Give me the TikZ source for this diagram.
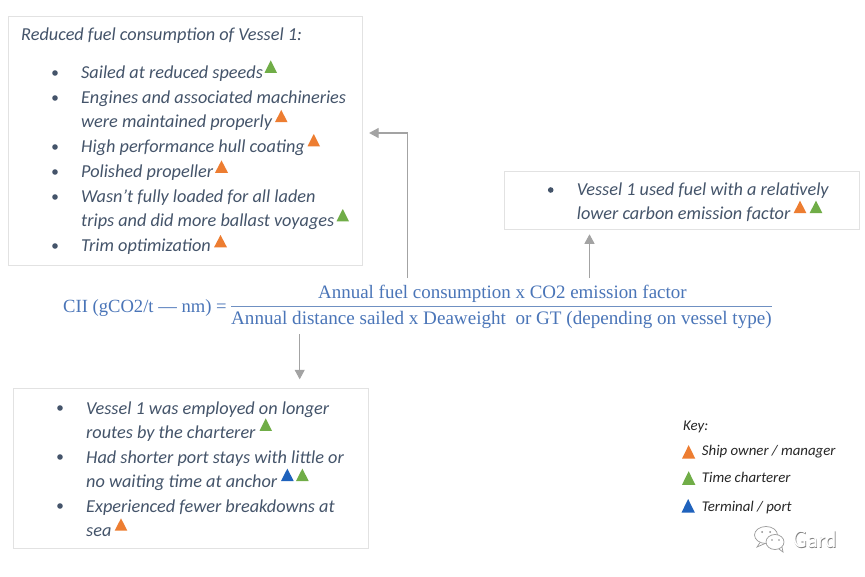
\documentclass[tikz,border=0pt]{standalone}
\usepackage{fontspec}
\setmainfont{Carlito}
\newfontfamily\mathlike{Liberation Serif}
\definecolor{slatetext}{HTML}{44546A}
\definecolor{boxline}{HTML}{E2E2E2}
\definecolor{arrowgrey}{HTML}{A3A3A3}
\definecolor{formulablue}{HTML}{4A75B8}
\definecolor{fracline}{HTML}{6F90C2}
\definecolor{triorange}{HTML}{ED7D31}
\definecolor{trigreen}{HTML}{70AD47}
\definecolor{triblue}{HTML}{1F62BC}
\definecolor{keytext}{HTML}{262626}
\usetikzlibrary{arrows.meta}
\tikzset{
  panel/.style={draw=boxline,line width=1.1pt,fill=white,inner sep=0pt,anchor=north west},
  item/.style={anchor=base west,inner sep=0pt,text=slatetext,font=\fontsize{18.25}{18.25}\selectfont\itshape},
  keyitem/.style={anchor=base west,inner sep=0pt,text=keytext,font=\fontsize{14.85}{14.85}\selectfont\itshape},
  formula/.style={anchor=base west,inner sep=0pt,text=formulablue,font=\fontsize{#1}{#1}\selectfont\mathlike},
  dot/.style={circle,fill=slatetext,inner sep=0pt,minimum size=5.6pt},
  link/.style={draw=arrowgrey,line width=1.1pt,-{Triangle[length=9.5pt,width=10pt]}},
}
\newcommand{\tri}[4]{\fill[#1] (#2,#4) -- (#3,#4) -- ({(#2+#3)/2},{#4-12.4}) -- cycle;}
\newcommand{\keytri}[4]{\fill[#1] (#2,#4) -- (#3,#4) -- ({(#2+#3)/2},{#4-13.6}) -- cycle;}
\begin{document}
\begin{tikzpicture}[x=1pt,y=-1pt]
\useasboundingbox (0,0) rectangle (865,576);
\fill[white] (0,0) rectangle (865,576);
% panels
\node[panel,minimum width=354pt,minimum height=249pt] (boxA) at (8,16) {};
\node[panel,minimum width=354.5pt,minimum height=160pt] (boxB) at (13.2,388.3) {};
\node[panel,minimum width=354.5pt,minimum height=58.5pt] (boxC) at (504,170.7) {};
% panel A
\node[item] (a0) at (21,40) {Reduced fuel consumption of Vessel 1:};
\node[dot] (ad1) at (55,73) {};
\node[dot] (ad2) at (55,98) {};
\node[dot] (ad3) at (55,147) {};
\node[dot] (ad4) at (55,172) {};
\node[dot] (ad5) at (55,197) {};
\node[dot] (ad6) at (55,246) {};
\node[item] (a1) at (81,78) {Sailed at reduced speeds};
\node[item] (a2) at (81,103) {Engines and associated machineries};
\node[item] (a3) at (81,127.5) {were maintained properly};
\node[item] (a4) at (81,152) {High performance hull coating};
\node[item] (a5) at (81,177) {Polished propeller};
\node[item] (a6) at (81,202) {Wasn’t fully loaded for all laden};
\node[item] (a7) at (81,226.5) {trips and did more ballast voyages};
\node[item] (a8) at (81,251) {Trim optimization};
\tri{trigreen}{264.5}{277}{72.8}
\tri{triorange}{275}{287.5}{122.2}
\tri{triorange}{307.5}{320}{146.4}
\tri{triorange}{215}{228}{172.8}
\tri{trigreen}{336.5}{349}{221.4}
\tri{triorange}{214}{227}{247.4}
% panel B
\node[dot] (bd1) at (60,408) {};
\node[dot] (bd2) at (60,457) {};
\node[dot] (bd3) at (60,506) {};
\node[item] (b1) at (86,414) {Vessel 1 was employed on longer};
\node[item] (b2) at (86,438) {routes by the charterer};
\node[item] (b3) at (86,463) {Had shorter port stays with little or};
\node[item] (b4) at (86,487) {no waiting time at anchor};
\node[item] (b5) at (86,512) {Experienced fewer breakdowns at};
\node[item] (b6) at (86,536) {sea};
\tri{trigreen}{259.5}{272}{430.8}
\tri{triblue}{281}{293.7}{481}
\tri{trigreen}{296}{308.7}{481}
\tri{triorange}{114.7}{127.3}{530.7}
% panel C
\node[dot] (cd1) at (550.7,190) {};
\node[item] (c1) at (576.7,195) {Vessel 1 used fuel with a relatively};
\node[item] (c2) at (576.7,219.5) {lower carbon emission factor};
\tri{triorange}{793.7}{806.3}{213}
\tri{trigreen}{809.7}{822.3}{213}
% formula
\node[anchor=north west,inner sep=0pt,minimum width=541pt,minimum height=48pt] (frac) at (231,282) {};
\node[formula=18.6] (lhs) at (63,312.9) {CII (gCO2/t — nm) =};
\node[formula=18.95] (num) at (318,298.4) {Annual fuel consumption x CO2 emission factor};
\node[formula=19.1] (den) at (231,324.4) {Annual distance sailed x Deaweight\ \ or GT (depending on vessel type)};
\draw[fracline,line width=1.3pt] (frac.west) -- (frac.east);
% connectors
\coordinate (xa) at (407.8,0);
\coordinate (xb) at (299.7,0);
\coordinate (xc) at (589.5,0);
\coordinate (ya) at (0,133);
\draw[link,shorten <=4pt,shorten >=6pt] (xa |- frac.north) |- (boxA.east |- ya);
\draw[link,shorten <=4pt,shorten >=9pt] (xb |- frac.south) -- (xb |- boxB.north);
\draw[link,shorten <=4pt,shorten >=4pt] (xc |- frac.north) -- (xc |- boxC.south);
% key
\node[keyitem] (k0) at (683,430) {Key:};
\node[keyitem] (k1) at (701.7,455) {Ship owner / manager};
\node[keyitem] (k2) at (701.7,482.7) {Time charterer};
\node[keyitem] (k3) at (701.7,511) {Terminal / port};
\keytri{triorange}{682}{695.3}{458.7}
\keytri{trigreen}{682}{695.3}{484.8}
\keytri{triblue}{681.5}{694.8}{512.6}
% watermark
\begin{scope}[draw=black!40,line width=0.7pt]
\draw (766,535) ellipse [x radius=11.5pt,y radius=8.5pt];
\draw (760,542.5) -- (757,547) -- (765,543.5);
\draw[fill=white] (775,542) ellipse [x radius=9pt,y radius=7.5pt];
\draw (779,549) -- (783,552) -- (782,547);
\fill[black!45] (762,532) circle (1pt) (770,532) circle (1pt) (772,540) circle (0.8pt) (779,540) circle (0.8pt);
\end{scope}
\node[anchor=base west,inner sep=0pt,text=black!50,font=\fontsize{24}{24}\selectfont\sffamily] (wm1) at (792.6,548) {Gard};
\node[anchor=base west,inner sep=0pt,text=white,font=\fontsize{24}{24}\selectfont\sffamily] (wm2) at (792,547.4) {Gard};
\end{tikzpicture}
\end{document}
